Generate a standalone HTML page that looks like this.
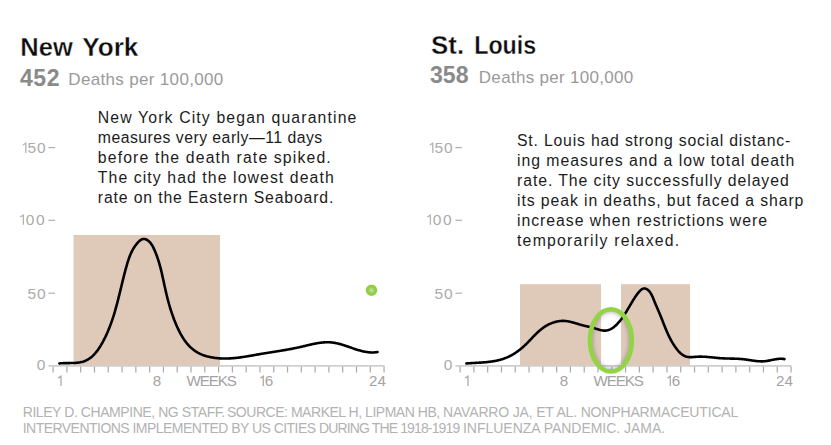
<!DOCTYPE html>
<html><head><meta charset="utf-8"><style>
html,body{margin:0;padding:0;background:#fff;}
body{width:831px;height:445px;overflow:hidden;}
svg{display:block;font-family:"Liberation Sans",sans-serif;}
.tt{font-weight:bold;font-size:26.5px;fill:#0d0d0d;stroke:#fff;stroke-width:0.35px;}
.num{font-weight:bold;font-size:23.1px;fill:#8a8a8a;}
.sub{font-size:17px;fill:#9a9a9a;}
.nt{font-size:15.8px;fill:#1c1c1c;}
.yl{font-size:15.5px;fill:#ababab;}
.xl{font-size:15.2px;fill:#a3a3a3;}
.ax{stroke:#cfcfcf;stroke-width:1.8;}
.o1y{fill:none;stroke:#b3b3b3;stroke-width:1.3;stroke-linejoin:miter;}
.o1x{fill:none;stroke:#ababab;stroke-width:1.3;stroke-linejoin:miter;}
.tk{stroke:#a8a8a8;stroke-width:1.2;}
.ds{stroke:#b0b0b0;stroke-width:1.2;}
.ft{font-size:14px;fill:#b2b2b2;}
.cv{fill:none;stroke:#000;stroke-width:2.6;stroke-linecap:round;stroke-linejoin:round;}
</style></head><body>
<svg width="831" height="445" viewBox="0 0 831 445">
<defs>
<radialGradient id="gd" cx="50%" cy="50%" r="50%">
<stop offset="0" stop-color="#c4dcb6"/><stop offset="0.25" stop-color="#b2d890"/><stop offset="0.5" stop-color="#96d04a"/><stop offset="0.85" stop-color="#90cd3e"/><stop offset="1" stop-color="#90cd3e" stop-opacity="0.3"/>
</radialGradient>
<clipPath id="ein"><ellipse cx="610.9" cy="340.4" rx="21" ry="31.2"/></clipPath>
<filter id="bl" x="-50%" y="-50%" width="200%" height="200%"><feGaussianBlur stdDeviation="2.2"/></filter>
</defs>
<rect width="831" height="445" fill="#fff"/>
<!-- rects -->
<rect x="73.5" y="235" width="146.5" height="131.2" fill="#dfcaba"/>
<rect x="520" y="284.2" width="81" height="82" fill="#dfcaba"/>
<rect x="621" y="284.2" width="69" height="82" fill="#dfcaba"/>
<path class="o1y" d="M22.90,145.02 L25.80,143.10 L25.80,152.90"/>
<text class="yl" x="27.4" y="152.9" textLength="18.1" lengthAdjust="spacing">50</text>
<path class="o1y" d="M20.20,216.99 L23.40,215.10 L23.40,224.80"/>
<text class="yl" x="25.7" y="224.8" textLength="19.0" lengthAdjust="spacing">00</text>
<text class="yl" x="27.6" y="299.0" textLength="17.9" lengthAdjust="spacing">50</text>
<text class="yl" x="36.8" y="369.5">0</text>
<line class="ds" x1="48.4" y1="147.6" x2="55" y2="147.6"/>
<line class="ds" x1="48.4" y1="220.3" x2="55" y2="220.3"/>
<line class="ds" x1="48.4" y1="293.2" x2="55" y2="293.2"/>
<line class="ax" x1="48.4" y1="365.9" x2="384.6" y2="365.9"/>
<line class="tk" x1="53.10" y1="366.5" x2="53.10" y2="372.5"/>
<line class="tk" x1="66.89" y1="366.5" x2="66.89" y2="372.5"/>
<line class="tk" x1="80.68" y1="366.5" x2="80.68" y2="372.5"/>
<line class="tk" x1="94.47" y1="366.5" x2="94.47" y2="372.5"/>
<line class="tk" x1="108.26" y1="366.5" x2="108.26" y2="372.5"/>
<line class="tk" x1="122.05" y1="366.5" x2="122.05" y2="372.5"/>
<line class="tk" x1="135.84" y1="366.5" x2="135.84" y2="372.5"/>
<line class="tk" x1="149.63" y1="366.5" x2="149.63" y2="372.5"/>
<line class="tk" x1="163.42" y1="366.5" x2="163.42" y2="372.5"/>
<line class="tk" x1="177.21" y1="366.5" x2="177.21" y2="372.5"/>
<line class="tk" x1="191.00" y1="366.5" x2="191.00" y2="372.5"/>
<line class="tk" x1="204.79" y1="366.5" x2="204.79" y2="372.5"/>
<line class="tk" x1="218.58" y1="366.5" x2="218.58" y2="372.5"/>
<line class="tk" x1="232.37" y1="366.5" x2="232.37" y2="372.5"/>
<line class="tk" x1="246.16" y1="366.5" x2="246.16" y2="372.5"/>
<line class="tk" x1="259.95" y1="366.5" x2="259.95" y2="372.5"/>
<line class="tk" x1="273.74" y1="366.5" x2="273.74" y2="372.5"/>
<line class="tk" x1="287.53" y1="366.5" x2="287.53" y2="372.5"/>
<line class="tk" x1="301.32" y1="366.5" x2="301.32" y2="372.5"/>
<line class="tk" x1="315.11" y1="366.5" x2="315.11" y2="372.5"/>
<line class="tk" x1="328.90" y1="366.5" x2="328.90" y2="372.5"/>
<line class="tk" x1="342.69" y1="366.5" x2="342.69" y2="372.5"/>
<line class="tk" x1="356.48" y1="366.5" x2="356.48" y2="372.5"/>
<line class="tk" x1="370.27" y1="366.5" x2="370.27" y2="372.5"/>
<line class="tk" x1="384.06" y1="366.5" x2="384.06" y2="372.5"/>
<path class="o1x" d="M58.10,378.09 L61.00,376.20 L61.00,385.90"/>
<text class="xl" x="157" y="386.1" text-anchor="middle">8</text>
<path class="o1x" d="M260.50,378.09 L263.30,376.20 L263.30,385.90"/>
<text class="xl" x="264.8" y="386.1">6</text>
<text class="xl" x="377.5" y="386.1" text-anchor="middle">24</text>
<text class="xl" x="186.6" y="386.1" textLength="50.3" lengthAdjust="spacing">WEEKS</text>
<path class="o1y" d="M429.90,145.02 L432.80,143.10 L432.80,152.90"/>
<text class="yl" x="434.4" y="152.9" textLength="18.1" lengthAdjust="spacing">50</text>
<path class="o1y" d="M427.20,216.99 L430.40,215.10 L430.40,224.80"/>
<text class="yl" x="432.7" y="224.8" textLength="19.0" lengthAdjust="spacing">00</text>
<text class="yl" x="434.6" y="299.0" textLength="17.9" lengthAdjust="spacing">50</text>
<text class="yl" x="443.8" y="369.5">0</text>
<line class="ds" x1="455.4" y1="147.6" x2="462" y2="147.6"/>
<line class="ds" x1="455.4" y1="220.3" x2="462" y2="220.3"/>
<line class="ds" x1="455.4" y1="293.2" x2="462" y2="293.2"/>
<line class="ax" x1="455.4" y1="365.9" x2="791.6" y2="365.9"/>
<line class="tk" x1="460.10" y1="366.5" x2="460.10" y2="372.5"/>
<line class="tk" x1="473.89" y1="366.5" x2="473.89" y2="372.5"/>
<line class="tk" x1="487.68" y1="366.5" x2="487.68" y2="372.5"/>
<line class="tk" x1="501.47" y1="366.5" x2="501.47" y2="372.5"/>
<line class="tk" x1="515.26" y1="366.5" x2="515.26" y2="372.5"/>
<line class="tk" x1="529.05" y1="366.5" x2="529.05" y2="372.5"/>
<line class="tk" x1="542.84" y1="366.5" x2="542.84" y2="372.5"/>
<line class="tk" x1="556.63" y1="366.5" x2="556.63" y2="372.5"/>
<line class="tk" x1="570.42" y1="366.5" x2="570.42" y2="372.5"/>
<line class="tk" x1="584.21" y1="366.5" x2="584.21" y2="372.5"/>
<line class="tk" x1="598.00" y1="366.5" x2="598.00" y2="372.5"/>
<line class="tk" x1="611.79" y1="366.5" x2="611.79" y2="372.5"/>
<line class="tk" x1="625.58" y1="366.5" x2="625.58" y2="372.5"/>
<line class="tk" x1="639.37" y1="366.5" x2="639.37" y2="372.5"/>
<line class="tk" x1="653.16" y1="366.5" x2="653.16" y2="372.5"/>
<line class="tk" x1="666.95" y1="366.5" x2="666.95" y2="372.5"/>
<line class="tk" x1="680.74" y1="366.5" x2="680.74" y2="372.5"/>
<line class="tk" x1="694.53" y1="366.5" x2="694.53" y2="372.5"/>
<line class="tk" x1="708.32" y1="366.5" x2="708.32" y2="372.5"/>
<line class="tk" x1="722.11" y1="366.5" x2="722.11" y2="372.5"/>
<line class="tk" x1="735.90" y1="366.5" x2="735.90" y2="372.5"/>
<line class="tk" x1="749.69" y1="366.5" x2="749.69" y2="372.5"/>
<line class="tk" x1="763.48" y1="366.5" x2="763.48" y2="372.5"/>
<line class="tk" x1="777.27" y1="366.5" x2="777.27" y2="372.5"/>
<line class="tk" x1="791.06" y1="366.5" x2="791.06" y2="372.5"/>
<path class="o1x" d="M465.10,378.09 L468.00,376.20 L468.00,385.90"/>
<text class="xl" x="564" y="386.1" text-anchor="middle">8</text>
<path class="o1x" d="M667.50,378.09 L670.30,376.20 L670.30,385.90"/>
<text class="xl" x="671.8" y="386.1">6</text>
<text class="xl" x="784.5" y="386.1" text-anchor="middle">24</text>
<text class="xl" x="593.6" y="386.1" textLength="50.3" lengthAdjust="spacing">WEEKS</text>
<path class="cv" d="M59.34,363.47L60.01,363.39L60.71,363.32L61.42,363.26L62.15,363.22L62.90,363.18L63.66,363.16L64.44,363.14L65.23,363.12L66.04,363.11L66.85,363.10L67.68,363.10L68.51,363.09L69.35,363.08L70.20,363.07L71.05,363.06L71.90,363.04L72.76,363.02L73.61,362.98L74.47,362.94L75.32,362.89L76.17,362.82L77.02,362.74L77.86,362.65L78.70,362.54L79.52,362.41L80.34,362.27L81.15,362.10L81.94,361.92L82.72,361.71L83.49,361.48L84.24,361.22L84.98,360.93L85.70,360.63L86.40,360.30L87.10,359.95L87.77,359.57L88.44,359.18L89.09,358.76L89.73,358.33L90.35,357.87L90.96,357.40L91.56,356.91L92.15,356.40L92.72,355.88L93.29,355.34L93.84,354.79L94.38,354.22L94.91,353.63L95.43,353.04L95.94,352.43L96.44,351.81L96.94,351.18L97.42,350.54L97.89,349.89L98.35,349.24L98.81,348.57L99.26,347.89L99.70,347.21L100.13,346.53L100.55,345.83L100.97,345.14L101.38,344.44L101.79,343.73L102.19,343.03L102.58,342.32L102.97,341.61L103.35,340.89L103.72,340.18L104.09,339.46L104.46,338.75L104.82,338.03L105.18,337.31L105.52,336.59L105.87,335.86L106.21,335.14L106.54,334.41L106.87,333.69L107.20,332.96L107.52,332.23L107.84,331.50L108.15,330.76L108.46,330.03L108.76,329.29L109.06,328.55L109.35,327.82L109.64,327.08L109.93,326.34L110.21,325.59L110.49,324.85L110.77,324.10L111.04,323.36L111.31,322.61L111.57,321.86L111.83,321.11L112.09,320.36L112.35,319.61L112.60,318.86L112.84,318.11L113.09,317.35L113.33,316.59L113.57,315.84L113.81,315.08L114.04,314.32L114.27,313.56L114.50,312.80L114.73,312.04L114.95,311.28L115.17,310.51L115.39,309.75L115.61,308.98L115.82,308.22L116.04,307.45L116.25,306.68L116.46,305.91L116.66,305.14L116.87,304.37L117.07,303.60L117.28,302.83L117.48,302.06L117.68,301.28L117.87,300.51L118.07,299.74L118.27,298.96L118.46,298.18L118.66,297.41L118.85,296.63L119.04,295.85L119.23,295.08L119.43,294.30L119.62,293.52L119.81,292.74L120.00,291.96L120.18,291.18L120.37,290.40L120.56,289.62L120.75,288.83L120.94,288.05L121.13,287.27L121.32,286.49L121.51,285.70L121.70,284.92L121.89,284.13L122.08,283.35L122.27,282.57L122.46,281.78L122.65,281.00L122.84,280.21L123.04,279.43L123.23,278.64L123.43,277.85L123.62,277.07L123.82,276.28L124.02,275.50L124.22,274.71L124.42,273.92L124.63,273.14L124.83,272.35L125.04,271.57L125.25,270.78L125.46,269.99L125.67,269.21L125.88,268.42L126.10,267.63L126.32,266.85L126.54,266.06L126.76,265.28L126.99,264.49L127.22,263.71L127.46,262.93L127.70,262.15L127.94,261.38L128.19,260.60L128.45,259.83L128.71,259.07L128.98,258.30L129.26,257.54L129.54,256.79L129.83,256.04L130.13,255.29L130.44,254.55L130.76,253.82L131.08,253.09L131.42,252.37L131.77,251.65L132.12,250.94L132.49,250.24L132.87,249.54L133.26,248.86L133.67,248.18L134.08,247.51L134.51,246.85L134.95,246.19L135.41,245.55L135.88,244.92L136.37,244.29L136.87,243.68L137.38,243.08L137.91,242.49L138.46,241.91L139.03,241.35L139.61,240.82L140.20,240.33L140.82,239.90L141.45,239.54L142.10,239.26L142.77,239.07L143.45,238.97L144.13,238.95L144.82,239.03L145.51,239.20L146.19,239.46L146.86,239.79L147.52,240.19L148.16,240.65L148.77,241.16L149.36,241.72L149.92,242.30L150.45,242.92L150.95,243.56L151.42,244.23L151.88,244.92L152.31,245.63L152.72,246.35L153.11,247.09L153.49,247.85L153.85,248.61L154.20,249.37L154.54,250.14L154.87,250.91L155.19,251.68L155.51,252.45L155.81,253.23L156.11,254.00L156.41,254.77L156.70,255.54L156.98,256.31L157.25,257.09L157.52,257.86L157.78,258.63L158.03,259.40L158.28,260.17L158.53,260.95L158.76,261.72L159.00,262.49L159.23,263.27L159.45,264.04L159.67,264.81L159.88,265.59L160.09,266.36L160.30,267.13L160.50,267.91L160.70,268.68L160.90,269.45L161.09,270.23L161.28,271.00L161.47,271.77L161.65,272.55L161.83,273.32L162.01,274.09L162.19,274.87L162.36,275.64L162.53,276.42L162.70,277.19L162.87,277.96L163.04,278.74L163.21,279.51L163.38,280.28L163.55,281.06L163.71,281.83L163.88,282.61L164.04,283.38L164.21,284.15L164.37,284.93L164.54,285.70L164.71,286.47L164.88,287.25L165.05,288.02L165.22,288.79L165.39,289.57L165.56,290.34L165.74,291.11L165.92,291.89L166.10,292.66L166.28,293.43L166.46,294.20L166.65,294.98L166.84,295.75L167.03,296.52L167.22,297.29L167.41,298.06L167.61,298.83L167.81,299.60L168.01,300.37L168.22,301.14L168.42,301.91L168.64,302.68L168.85,303.45L169.06,304.22L169.28,304.99L169.51,305.75L169.73,306.52L169.96,307.29L170.19,308.05L170.43,308.82L170.66,309.58L170.91,310.35L171.15,311.11L171.40,311.87L171.65,312.63L171.91,313.40L172.17,314.16L172.43,314.92L172.70,315.67L172.97,316.43L173.24,317.19L173.52,317.95L173.81,318.70L174.09,319.46L174.39,320.21L174.68,320.96L174.98,321.72L175.29,322.47L175.60,323.22L175.91,323.97L176.23,324.71L176.55,325.46L176.88,326.21L177.21,326.95L177.55,327.70L177.89,328.44L178.24,329.18L178.60,329.91L178.95,330.65L179.32,331.38L179.69,332.11L180.07,332.83L180.45,333.55L180.84,334.26L181.24,334.97L181.64,335.68L182.05,336.38L182.47,337.07L182.90,337.75L183.33,338.43L183.77,339.11L184.22,339.77L184.67,340.43L185.14,341.08L185.61,341.72L186.09,342.35L186.58,342.97L187.08,343.59L187.59,344.19L188.10,344.78L188.63,345.37L189.16,345.94L189.71,346.50L190.26,347.05L190.82,347.59L191.40,348.11L191.98,348.62L192.58,349.12L193.18,349.61L193.80,350.08L194.43,350.54L195.07,350.99L195.71,351.41L196.38,351.83L197.05,352.23L197.73,352.62L198.42,352.99L199.12,353.34L199.83,353.69L200.55,354.02L201.28,354.33L202.01,354.64L202.76,354.93L203.51,355.20L204.27,355.47L205.03,355.72L205.80,355.96L206.58,356.19L207.36,356.40L208.14,356.61L208.94,356.80L209.73,356.98L210.53,357.15L211.33,357.31L212.14,357.46L212.94,357.59L213.75,357.72L214.56,357.84L215.38,357.95L216.19,358.04L217.01,358.13L217.82,358.21L218.63,358.28L219.45,358.34L220.26,358.39L221.07,358.43L221.88,358.47L222.69,358.49L223.50,358.51L224.31,358.52L225.11,358.52L225.92,358.52L226.72,358.50L227.53,358.48L228.33,358.46L229.13,358.43L229.93,358.39L230.73,358.34L231.53,358.29L232.32,358.23L233.12,358.17L233.92,358.10L234.71,358.03L235.51,357.95L236.30,357.87L237.09,357.78L237.88,357.69L238.68,357.59L239.47,357.49L240.26,357.38L241.05,357.27L241.84,357.16L242.63,357.05L243.41,356.93L244.20,356.81L244.99,356.69L245.78,356.56L246.56,356.43L247.35,356.30L248.14,356.17L248.92,356.04L249.71,355.90L250.49,355.76L251.28,355.63L252.07,355.49L252.85,355.35L253.64,355.21L254.42,355.07L255.21,354.93L255.99,354.79L256.78,354.65L257.56,354.51L258.35,354.38L259.13,354.24L259.92,354.10L260.70,353.97L261.49,353.83L262.28,353.70L263.06,353.57L263.85,353.44L264.64,353.31L265.42,353.18L266.21,353.06L267.00,352.93L267.78,352.80L268.57,352.68L269.36,352.55L270.15,352.43L270.93,352.30L271.72,352.18L272.51,352.06L273.30,351.93L274.09,351.81L274.87,351.68L275.66,351.56L276.45,351.43L277.24,351.30L278.03,351.18L278.82,351.05L279.61,350.92L280.40,350.79L281.18,350.66L281.97,350.53L282.76,350.40L283.55,350.27L284.34,350.13L285.13,350.00L285.92,349.86L286.71,349.72L287.50,349.58L288.29,349.44L289.08,349.30L289.87,349.15L290.66,349.00L291.45,348.85L292.24,348.70L293.03,348.55L293.82,348.39L294.61,348.23L295.40,348.07L296.19,347.91L296.98,347.74L297.77,347.57L298.56,347.40L299.35,347.22L300.14,347.04L300.93,346.86L301.72,346.68L302.51,346.49L303.30,346.31L304.09,346.12L304.88,345.93L305.67,345.74L306.46,345.55L307.25,345.36L308.04,345.17L308.83,344.99L309.62,344.81L310.41,344.63L311.19,344.45L311.98,344.27L312.77,344.10L313.56,343.94L314.34,343.78L315.13,343.62L315.92,343.47L316.70,343.33L317.49,343.19L318.27,343.06L319.06,342.94L319.84,342.83L320.63,342.73L321.41,342.63L322.19,342.54L322.98,342.47L323.76,342.40L324.54,342.35L325.32,342.31L326.10,342.28L326.88,342.26L327.66,342.25L328.44,342.26L329.21,342.28L329.99,342.32L330.77,342.37L331.54,342.44L332.32,342.52L333.09,342.62L333.86,342.73L334.64,342.85L335.41,342.99L336.18,343.15L336.95,343.31L337.72,343.49L338.49,343.67L339.26,343.87L340.03,344.08L340.80,344.29L341.57,344.52L342.34,344.75L343.10,344.99L343.87,345.23L344.64,345.48L345.41,345.73L346.18,345.99L346.95,346.26L347.71,346.52L348.48,346.79L349.25,347.05L350.02,347.32L350.79,347.59L351.56,347.86L352.33,348.13L353.10,348.39L353.88,348.66L354.65,348.92L355.42,349.17L356.19,349.42L356.97,349.67L357.74,349.91L358.52,350.14L359.29,350.37L360.07,350.59L360.85,350.80L361.63,351.00L362.41,351.19L363.19,351.37L363.97,351.53L364.76,351.69L365.54,351.83L366.33,351.97L367.12,352.08L367.91,352.18L368.70,352.27L369.49,352.34L370.28,352.40L371.08,352.43L371.87,352.45L372.67,352.45L373.47,352.43L374.27,352.39L375.08,352.33L375.88,352.25L376.69,352.15L377.50,352.02"/>
<path class="cv" d="M466.36,363.44L467.00,363.39L467.63,363.35L468.27,363.30L468.91,363.26L469.55,363.22L470.20,363.18L470.84,363.14L471.49,363.11L472.14,363.07L472.79,363.03L473.45,363.00L474.10,362.96L474.76,362.93L475.41,362.89L476.07,362.86L476.73,362.82L477.40,362.78L478.06,362.75L478.72,362.71L479.38,362.67L480.05,362.63L480.71,362.59L481.38,362.54L482.04,362.50L482.71,362.45L483.38,362.40L484.04,362.34L484.71,362.29L485.37,362.23L486.04,362.17L486.70,362.10L487.37,362.04L488.03,361.97L488.70,361.89L489.36,361.81L490.02,361.73L490.68,361.64L491.34,361.55L492.00,361.46L492.66,361.36L493.31,361.25L493.97,361.14L494.62,361.03L495.27,360.90L495.92,360.78L496.57,360.65L497.21,360.51L497.86,360.36L498.50,360.21L499.14,360.05L499.77,359.89L500.41,359.72L501.04,359.54L501.67,359.36L502.29,359.16L502.92,358.96L503.54,358.76L504.15,358.54L504.77,358.32L505.38,358.09L505.98,357.85L506.59,357.60L507.19,357.34L507.79,357.08L508.38,356.81L508.97,356.53L509.56,356.24L510.14,355.94L510.72,355.64L511.30,355.33L511.87,355.02L512.44,354.69L513.01,354.36L513.57,354.03L514.13,353.68L514.69,353.34L515.24,352.98L515.79,352.62L516.33,352.25L516.87,351.88L517.41,351.50L517.94,351.11L518.47,350.72L519.00,350.32L519.52,349.92L520.04,349.51L520.56,349.10L521.07,348.68L521.58,348.26L522.08,347.84L522.58,347.40L523.08,346.97L523.57,346.53L524.06,346.08L524.55,345.64L525.03,345.18L525.51,344.73L525.98,344.27L526.45,343.80L526.92,343.34L527.39,342.87L527.85,342.40L528.31,341.93L528.77,341.45L529.23,340.98L529.68,340.50L530.14,340.02L530.59,339.54L531.04,339.06L531.50,338.58L531.95,338.11L532.40,337.63L532.86,337.15L533.31,336.67L533.77,336.20L534.23,335.73L534.68,335.26L535.15,334.79L535.61,334.32L536.07,333.86L536.54,333.40L537.01,332.95L537.49,332.50L537.97,332.05L538.45,331.61L538.94,331.17L539.43,330.74L539.92,330.31L540.42,329.89L540.93,329.47L541.44,329.06L541.96,328.66L542.48,328.26L543.01,327.87L543.55,327.49L544.09,327.12L544.64,326.75L545.20,326.40L545.76,326.05L546.33,325.71L546.91,325.38L547.50,325.06L548.09,324.75L548.69,324.44L549.29,324.15L549.90,323.87L550.51,323.60L551.13,323.34L551.75,323.10L552.38,322.86L553.01,322.64L553.64,322.43L554.28,322.23L554.92,322.04L555.56,321.87L556.20,321.70L556.85,321.56L557.50,321.42L558.15,321.30L558.80,321.20L559.45,321.11L560.10,321.03L560.75,320.97L561.40,320.93L562.05,320.90L562.71,320.88L563.35,320.88L564.00,320.90L564.65,320.94L565.30,320.99L565.94,321.05L566.58,321.13L567.23,321.22L567.87,321.32L568.51,321.43L569.15,321.56L569.78,321.69L570.42,321.84L571.06,321.99L571.69,322.15L572.33,322.31L572.96,322.48L573.60,322.66L574.23,322.84L574.86,323.03L575.50,323.22L576.13,323.41L576.76,323.60L577.39,323.80L578.02,323.99L578.65,324.18L579.29,324.38L579.92,324.56L580.55,324.75L581.18,324.93L581.81,325.11L582.44,325.28L583.08,325.45L583.71,325.61L584.34,325.77L584.97,325.92L585.61,326.06L586.24,326.21L586.88,326.35L587.51,326.49L588.15,326.63L588.79,326.78L589.43,326.92L590.07,327.07L590.71,327.22L591.35,327.38L591.99,327.54L592.64,327.71L593.29,327.89L593.93,328.07L594.58,328.27L595.23,328.47L595.88,328.68L596.54,328.89L597.19,329.10L597.84,329.31L598.49,329.51L599.14,329.70L599.78,329.88L600.43,330.05L601.07,330.20L601.71,330.34L602.35,330.45L602.98,330.54L603.61,330.61L604.23,330.64L604.85,330.65L605.46,330.62L606.07,330.56L606.67,330.47L607.27,330.35L607.86,330.20L608.45,330.02L609.03,329.82L609.60,329.59L610.17,329.34L610.73,329.06L611.29,328.76L611.84,328.44L612.38,328.10L612.92,327.73L613.45,327.35L613.97,326.95L614.49,326.54L615.01,326.10L615.51,325.66L616.01,325.20L616.51,324.72L616.99,324.23L617.47,323.74L617.94,323.23L618.41,322.71L618.87,322.19L619.32,321.65L619.77,321.11L620.20,320.57L620.64,320.02L621.06,319.47L621.48,318.91L621.89,318.36L622.29,317.80L622.68,317.25L623.07,316.69L623.45,316.14L623.82,315.58L624.19,315.03L624.55,314.48L624.91,313.93L625.26,313.38L625.60,312.83L625.95,312.28L626.28,311.73L626.62,311.19L626.95,310.64L627.28,310.09L627.61,309.54L627.93,308.99L628.26,308.44L628.58,307.89L628.90,307.35L629.22,306.80L629.55,306.24L629.87,305.69L630.19,305.14L630.52,304.59L630.84,304.03L631.17,303.48L631.50,302.92L631.84,302.36L632.18,301.80L632.52,301.24L632.86,300.68L633.21,300.11L633.57,299.55L633.93,298.98L634.30,298.41L634.67,297.84L635.05,297.26L635.43,296.69L635.83,296.11L636.23,295.53L636.64,294.94L637.05,294.36L637.48,293.78L637.91,293.21L638.35,292.65L638.80,292.10L639.25,291.58L639.71,291.08L640.18,290.62L640.65,290.18L641.13,289.79L641.61,289.44L642.10,289.13L642.60,288.88L643.10,288.69L643.60,288.55L644.10,288.48L644.62,288.48L645.13,288.54L645.64,288.67L646.15,288.86L646.65,289.10L647.15,289.39L647.64,289.73L648.12,290.12L648.58,290.54L649.02,291.00L649.45,291.48L649.86,292.00L650.25,292.54L650.62,293.10L650.97,293.68L651.31,294.28L651.64,294.90L651.96,295.53L652.26,296.17L652.55,296.82L652.84,297.48L653.12,298.14L653.39,298.81L653.66,299.48L653.92,300.14L654.19,300.80L654.45,301.46L654.71,302.11L654.97,302.75L655.24,303.38L655.50,304.01L655.76,304.63L656.03,305.25L656.29,305.86L656.55,306.47L656.81,307.07L657.07,307.67L657.33,308.27L657.59,308.86L657.85,309.45L658.11,310.04L658.37,310.63L658.62,311.22L658.87,311.81L659.13,312.40L659.38,312.99L659.62,313.58L659.87,314.17L660.12,314.76L660.36,315.36L660.60,315.95L660.84,316.55L661.08,317.15L661.32,317.75L661.56,318.35L661.79,318.95L662.03,319.55L662.26,320.15L662.50,320.76L662.74,321.36L662.97,321.97L663.21,322.57L663.44,323.18L663.68,323.79L663.92,324.39L664.16,325.00L664.40,325.61L664.64,326.22L664.89,326.82L665.13,327.43L665.38,328.04L665.63,328.65L665.88,329.25L666.13,329.86L666.39,330.47L666.64,331.07L666.90,331.68L667.17,332.28L667.44,332.88L667.71,333.49L667.98,334.09L668.26,334.69L668.54,335.29L668.82,335.89L669.11,336.48L669.41,337.08L669.70,337.67L670.01,338.27L670.31,338.86L670.62,339.45L670.94,340.04L671.26,340.62L671.59,341.21L671.93,341.79L672.26,342.37L672.61,342.95L672.96,343.53L673.32,344.10L673.68,344.67L674.05,345.24L674.43,345.81L674.81,346.37L675.20,346.94L675.60,347.50L676.01,348.05L676.42,348.61L676.84,349.15L677.27,349.69L677.70,350.23L678.15,350.75L678.60,351.27L679.06,351.77L679.53,352.26L680.01,352.73L680.49,353.18L680.99,353.62L681.49,354.04L682.00,354.44L682.53,354.81L683.06,355.17L683.60,355.49L684.15,355.79L684.71,356.06L685.28,356.30L685.86,356.52L686.45,356.69L687.05,356.84L687.66,356.95L688.28,357.04L688.91,357.09L689.54,357.13L690.18,357.14L690.83,357.14L691.48,357.12L692.14,357.09L692.80,357.05L693.46,357.00L694.12,356.94L694.79,356.89L695.46,356.84L696.13,356.79L696.79,356.74L697.46,356.71L698.12,356.68L698.79,356.66L699.45,356.65L700.11,356.65L700.77,356.65L701.43,356.66L702.09,356.67L702.75,356.69L703.41,356.72L704.07,356.75L704.72,356.78L705.38,356.82L706.03,356.86L706.69,356.91L707.34,356.96L708.00,357.02L708.65,357.07L709.30,357.13L709.96,357.19L710.61,357.25L711.26,357.32L711.91,357.38L712.56,357.45L713.22,357.52L713.87,357.58L714.52,357.65L715.17,357.72L715.82,357.78L716.47,357.85L717.13,357.91L717.78,357.97L718.43,358.03L719.08,358.08L719.74,358.14L720.39,358.19L721.04,358.23L721.70,358.28L722.35,358.32L723.01,358.35L723.66,358.38L724.32,358.41L724.98,358.44L725.63,358.46L726.29,358.48L726.95,358.50L727.60,358.52L728.26,358.53L728.92,358.55L729.58,358.56L730.24,358.58L730.89,358.59L731.55,358.60L732.21,358.62L732.87,358.63L733.52,358.65L734.18,358.67L734.84,358.69L735.50,358.71L736.15,358.73L736.81,358.76L737.47,358.79L738.12,358.82L738.78,358.86L739.43,358.89L740.09,358.94L740.74,358.99L741.40,359.04L742.05,359.10L742.70,359.16L743.36,359.23L744.01,359.31L744.66,359.39L745.31,359.47L745.96,359.56L746.61,359.65L747.26,359.75L747.91,359.84L748.56,359.94L749.20,360.04L749.85,360.14L750.50,360.24L751.15,360.34L751.80,360.44L752.44,360.54L753.09,360.63L753.74,360.72L754.38,360.81L755.03,360.89L755.68,360.97L756.33,361.04L756.97,361.11L757.62,361.17L758.27,361.22L758.92,361.26L759.57,361.30L760.22,361.32L760.87,361.34L761.52,361.35L762.17,361.34L762.82,361.33L763.47,361.30L764.13,361.26L764.78,361.20L765.44,361.13L766.09,361.05L766.75,360.96L767.40,360.86L768.06,360.75L768.72,360.63L769.38,360.50L770.03,360.37L770.69,360.24L771.35,360.10L772.01,359.96L772.67,359.83L773.33,359.70L773.99,359.57L774.65,359.44L775.31,359.32L775.97,359.21L776.62,359.11L777.28,359.02L777.94,358.94L778.60,358.87L779.26,358.82L779.91,358.79L780.57,358.77L781.22,358.77L781.88,358.79L782.53,358.83L783.19,358.90L783.84,358.99L784.49,359.10"/>
<g clip-path="url(#ein)"><ellipse cx="610.9" cy="340.4" rx="21" ry="31.2" fill="none" stroke="#6a5a70" stroke-opacity="0.45" stroke-width="6" filter="url(#bl)"/></g>
<ellipse cx="610.9" cy="340.4" rx="21" ry="31.2" fill="none" stroke="#93d444" stroke-width="4.5"/>
<circle cx="371.5" cy="290.2" r="6" fill="url(#gd)"/>
<text class="tt" transform="translate(20.3,56) scale(0.962,1)">New</text><text class="tt" transform="translate(82.3,56) scale(0.985,1)">York</text>
<text class="tt" transform="translate(431.1,54) scale(0.975,1)">St.</text><text class="tt" transform="translate(474.2,54) scale(0.877,1)">Louis</text>
<text class="num" x="20" y="85.8" textLength="39.5" lengthAdjust="spacing">452</text>
<text class="sub" x="68.3" y="85" textLength="155" lengthAdjust="spacing">Deaths per 100,000</text>
<text class="num" x="430" y="82.6" textLength="38.5" lengthAdjust="spacing">358</text>
<text class="sub" x="478.8" y="82.7" textLength="154.5" lengthAdjust="spacing">Deaths per 100,000</text>
<text class="nt" x="97.8" y="122.8" textLength="258.6" lengthAdjust="spacing">New York City began quarantine</text>
<text class="nt" x="97.8" y="142.8" textLength="224.4" lengthAdjust="spacing">measures very early—11 days</text>
<text class="nt" x="97.8" y="162.8" textLength="232.9" lengthAdjust="spacing">before the death rate spiked.</text>
<text class="nt" x="97.8" y="182.8" textLength="235.9" lengthAdjust="spacing">The city had the lowest death</text>
<text class="nt" x="97.8" y="202.8" textLength="235.6" lengthAdjust="spacing">rate on the Eastern Seaboard.</text>
<text class="nt" x="517" y="145.8" textLength="273.2" lengthAdjust="spacing">St. Louis had strong social distanc-</text>
<text class="nt" x="517" y="165.8" textLength="277.2" lengthAdjust="spacing">ing measures and a low total death</text>
<text class="nt" x="517" y="185.7" textLength="271.7" lengthAdjust="spacing">rate. The city successfully delayed</text>
<text class="nt" x="517" y="205.7" textLength="286.4" lengthAdjust="spacing">its peak in deaths, but faced a sharp</text>
<text class="nt" x="517" y="225.6" textLength="250.0" lengthAdjust="spacing">increase when restrictions were</text>
<text class="nt" x="517" y="245.6" textLength="162.2" lengthAdjust="spacing">temporarily relaxed.</text>
<text class="ft" x="22.7" y="416.8" textLength="202.5" lengthAdjust="spacing">RILEY D. CHAMPINE, NG STAFF.</text>
<text class="ft" x="227.0" y="416.8" textLength="213.2" lengthAdjust="spacing">SOURCE: MARKEL H, LIPMAN HB,</text>
<text class="ft" x="443.0" y="416.8" textLength="295.3" lengthAdjust="spacing">NAVARRO JA, ET AL. NONPHARMACEUTICAL</text>
<text class="ft" x="22.7" y="433.0" textLength="293.4" lengthAdjust="spacing">INTERVENTIONS IMPLEMENTED BY US CITIES</text>
<text class="ft" x="318.9" y="433.0" textLength="141.3" lengthAdjust="spacing">DURING THE 1918-1919</text>
<text class="ft" x="463.0" y="433.0" textLength="202.1" lengthAdjust="spacing">INFLUENZA PANDEMIC. JAMA.</text>
</svg>
</body></html>
